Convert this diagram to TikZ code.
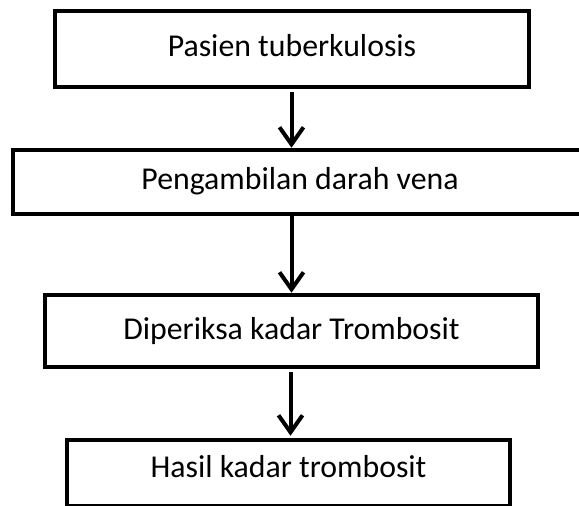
\documentclass[tikz,border=0pt]{standalone}
\usepackage{fontspec}
\setmainfont{Carlito}
\usetikzlibrary{arrows.meta}
\tikzset{
  flowbox/.style={draw=black, line width=4.5bp, rectangle, inner sep=0pt,
    text height=24bp, text depth=8bp,
    font=\fontsize{31.8bp}{38bp}\selectfont},
  flowarrow/.style={line width=4bp, -{Straight Barb[length=17bp,width=24bp,line width=4bp]}}
}
\begin{document}
\begin{tikzpicture}[x=1bp,y=-1bp]
\useasboundingbox (0,0) rectangle (579,506);
\clip (0,0) rectangle (579,506);
\node[flowbox, minimum width=474bp, minimum height=76bp] (b1) at (292,49) {Pasien tuberkulosis};
\node[flowbox, minimum width=574bp, minimum height=64bp] (b2) at (300,182) {Pengambilan darah vena};
\node[flowbox, minimum width=493bp, minimum height=72bp] (b3) at (291.5,331) {Diperiksa kadar Trombosit};
\node[flowbox, minimum width=443bp, minimum height=66bp, text depth=15bp] (b4) at (288.5,473) {Hasil kadar trombosit};
\coordinate (ax) at (291.5,0);
\coordinate (bx) at (290.5,0);
\draw[flowarrow, shorten <=2.5bp] (b1.south -| ax) -- (b2.north -| ax);
\draw[flowarrow, shorten <=0bp] (b2.south -| ax) -- (b3.north -| ax);
\draw[flowarrow, shorten <=3bp, shorten >=2bp] (b3.south -| bx) -- (b4.north -| bx);
\end{tikzpicture}
\end{document}
